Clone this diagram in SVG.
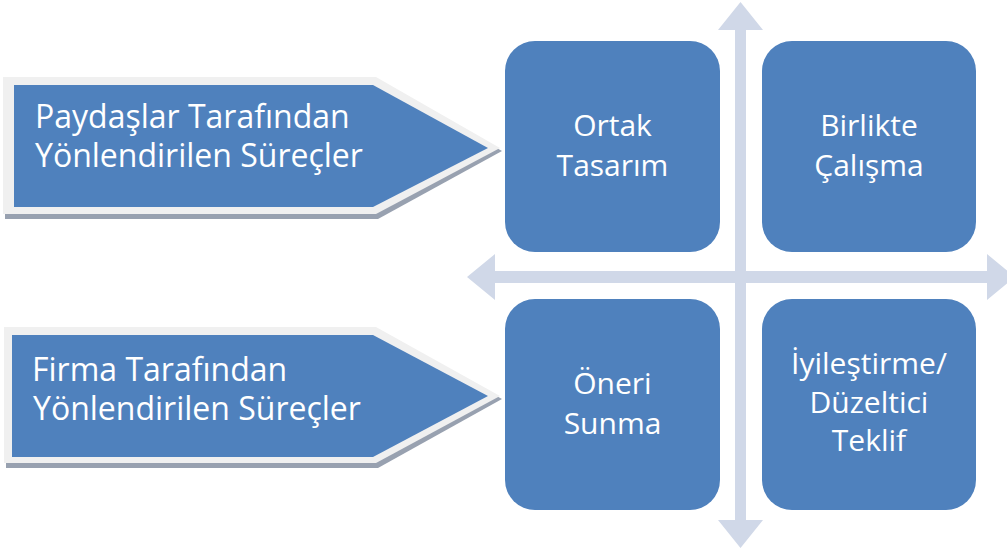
<svg xmlns="http://www.w3.org/2000/svg" width="1007" height="553" viewBox="0 0 1007 553">
<style>
.box{fill:#4f81bd}
.ax{fill:#d0d8e8}
.t{font-family:"Open Sans","Liberation Sans",sans-serif;fill:#ffffff}
.bt{font-size:30px;text-anchor:middle}
.pt{font-size:32px}
.pshadow{fill:#98a1b0}
.plight{fill:#f0f0f0}
</style>
<rect width="1007" height="553" fill="#ffffff"/>
<g id="connectors">
  <polygon class="ax" points="495,271 495,254 467,277 495,300 495,283 987,283 987,300 1015,277 987,254 987,271"/>
  <polygon class="ax" points="735,30 718,30 740.5,2 763,30 746,30 746,520 763,520 740.5,548 718,520 735,520"/>
</g>
<g id="pent1">
  <polygon class="pshadow" points="5,81 378,81 502,151 378,219 5,219"/>
  <polygon class="plight" points="3,77 376,77 500,148 376,214 3,214"/>
  <polygon class="box" points="14,85 373,85 488,148 373,207 14,207"/>
  <text class="t pt" x="35" y="128">Paydaşlar Tarafından</text>
  <text class="t pt" x="35" y="167">Yönlendirilen Süreçler</text>
</g>
<g id="pent2">
  <polygon class="pshadow" points="6,331 378,331 502,399 378,468 6,468"/>
  <polygon class="plight" points="4,327 376,327 500,396 376,463 4,463"/>
  <polygon class="box" points="12,335 373,335 488,396 373,457 12,457"/>
  <text class="t pt" x="32" y="381">Firma Tarafından</text>
  <text class="t pt" x="33" y="420">Yönlendirilen Süreçler</text>
</g>
<g id="ortak">
  <rect class="box" x="505" y="41" width="215" height="211" rx="30"/>
  <text class="t bt" x="612.5" y="136">Ortak</text>
  <text class="t bt" x="612.5" y="176">Tasarım</text>
</g>
<g id="birlikte">
  <rect class="box" x="762" y="41" width="214" height="211" rx="30"/>
  <text class="t bt" x="869" y="136">Birlikte</text>
  <text class="t bt" x="869" y="176">Çalışma</text>
</g>
<g id="oneri">
  <rect class="box" x="505" y="299" width="215" height="211" rx="30"/>
  <text class="t bt" x="612.5" y="394">Öneri</text>
  <text class="t bt" x="612.5" y="434">Sunma</text>
</g>
<g id="iyilestirme">
  <rect class="box" x="762" y="299" width="214" height="211" rx="30"/>
  <text class="t bt" x="869" y="374">İyileştirme/</text>
  <text class="t bt" x="869" y="413">Düzeltici</text>
  <text class="t bt" x="869" y="451">Teklif</text>
</g>
</svg>
